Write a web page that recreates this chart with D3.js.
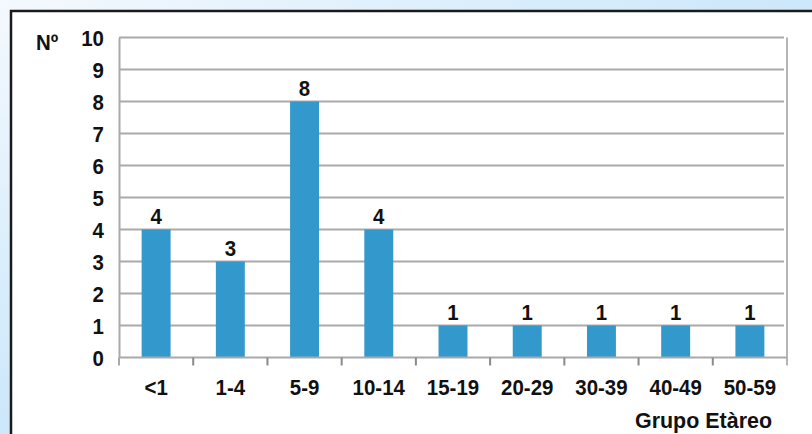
<!DOCTYPE html>
<html>
<head>
<meta charset="utf-8">
<script src="https://cdn.jsdelivr.net/npm/d3@7"></script>
<style>
  html, body { margin: 0; padding: 0; background: #fff; }
  svg { display: block; }
  text { font-family: "Liberation Sans", Arial, sans-serif; font-weight: bold; fill: #111; }
</style>
</head>
<body>
<svg id="chart" width="812" height="434"></svg>
<script>
// Cases by age group
const categories = ["<1", "1-4", "5-9", "10-14", "15-19", "20-29", "30-39", "40-49", "50-59"];
const counts = [4, 3, 8, 4, 1, 1, 1, 1, 1];
const yTicks = [0, 1, 2, 3, 4, 5, 6, 7, 8, 9, 10];
const yTitle = "Nº";
const xTitle = "Grupo Etàreo";

const W = 812, H = 434;
const FS = 22;        // label font size
const SX = 0.93;      // slight horizontal squeeze of the glyphs
const svg = d3.select("#chart");

// Place a text element at (px, py) with narrowed glyphs
function squeeze(sel, px, py) {
  sel.attr("x", null).attr("y", null)
    .attr("transform", (d, i) => `translate(${px(d, i)},${py(d, i)}) scale(${SX},1)`);
}

// Pale blue backdrop behind the framed panel
const defs = svg.append("defs");
const grad = defs.append("radialGradient")
  .attr("id", "bg").attr("cx", "0").attr("cy", "0").attr("r", "1.1")
  .attr("gradientUnits", "objectBoundingBox");
grad.append("stop").attr("offset", "0").attr("stop-color", "#f4f9fe");
grad.append("stop").attr("offset", "0.6").attr("stop-color", "#d8edfb");
grad.append("stop").attr("offset", "1").attr("stop-color", "#c9e6fa");
svg.append("rect").attr("width", W).attr("height", H).attr("fill", "url(#bg)");

// White panel with a dark frame on its top and left edges
svg.append("rect").attr("x", 11).attr("y", 11).attr("width", W).attr("height", H)
  .attr("fill", "#fff").attr("stroke", "#1a1a1a").attr("stroke-width", 2.5);

const plot = { left: 119, right: 787, top: 37.5, bottom: 357.5 };

const x = d3.scaleBand().domain(categories).range([plot.left, plot.right]).paddingInner(0.61).paddingOuter(0.305);
const xBand = d3.scaleBand().domain(categories).range([plot.left, plot.right]);
const y = d3.scaleLinear().domain([0, 10]).range([plot.bottom, plot.top]);

// Horizontal gridlines
svg.append("g").selectAll("line").data(yTicks.filter(d => d > 0)).join("line")
  .attr("x1", plot.left).attr("x2", plot.right - 3)
  .attr("y1", d => y(d)).attr("y2", d => y(d))
  .attr("stroke", "#a9a9a9").attr("stroke-width", 2);

// Right edge of plot area
svg.append("line").attr("x1", plot.right).attr("x2", plot.right)
  .attr("y1", plot.top).attr("y2", plot.bottom + 8)
  .attr("stroke", "#b5b5b5").attr("stroke-width", 2);

// Bars
svg.append("g").selectAll("rect").data(counts).join("rect")
  .attr("x", (d, i) => x(categories[i]))
  .attr("width", x.bandwidth())
  .attr("y", d => y(d))
  .attr("height", d => y(0) - y(d))
  .attr("fill", "#3399cc");

// Value labels
svg.append("g").selectAll("text").data(counts).join("text")
  .attr("text-anchor", "middle")
  .attr("font-size", FS)
  .text(d => d)
  .call(squeeze, (d, i) => x(categories[i]) + x.bandwidth() / 2, d => y(d) - 6);

// Y axis
const yAxis = d3.axisLeft(y).tickValues(yTicks).tickSize(0).tickPadding(15).tickFormat(d3.format("d"));
const gy = svg.append("g").attr("transform", `translate(${plot.left},0)`).call(yAxis);
gy.select(".domain").attr("stroke", "#a9a9a9").attr("stroke-width", 2);
gy.selectAll(".tick text").attr("font-size", FS).attr("fill", "#111")
  .attr("font-family", "Liberation Sans, Arial, sans-serif").attr("font-weight", "bold")
  .attr("dy", "0.36em")
  .call(squeeze, () => -15, () => 0);

// X axis labels centred under each category
const xAxis = d3.axisBottom(xBand).tickSize(0).tickPadding(0);
const gx = svg.append("g").attr("transform", `translate(0,${plot.bottom})`).call(xAxis);
gx.select(".domain").remove();
gx.selectAll(".tick text").attr("font-size", FS).attr("fill", "#111")
  .attr("font-family", "Liberation Sans, Arial, sans-serif").attr("font-weight", "bold")
  .attr("dy", null)
  .call(squeeze, () => 0, () => 37.5);

// X axis line and separator ticks between categories
svg.append("line").attr("x1", plot.left).attr("x2", plot.right)
  .attr("y1", plot.bottom).attr("y2", plot.bottom)
  .attr("stroke", "#a9a9a9").attr("stroke-width", 2);
svg.append("g").selectAll("line").data(categories.slice(0, -1)).join("line")
  .attr("x1", d => xBand(d) + xBand.bandwidth()).attr("x2", d => xBand(d) + xBand.bandwidth())
  .attr("y1", plot.bottom).attr("y2", plot.bottom + 8)
  .attr("stroke", "#8a8a8a").attr("stroke-width", 2);
svg.append("line").attr("x1", plot.left).attr("x2", plot.left)
  .attr("y1", plot.bottom).attr("y2", plot.bottom + 8)
  .attr("stroke", "#a9a9a9").attr("stroke-width", 2);

// Axis titles
svg.append("text").attr("font-size", FS).text(yTitle)
  .call(squeeze, () => 36, () => 50);
svg.append("text").attr("x", 772).attr("y", 428).attr("text-anchor", "end").attr("font-size", FS)
  .attr("textLength", 137).attr("lengthAdjust", "spacingAndGlyphs").text(xTitle);
</script>
</body>
</html>
